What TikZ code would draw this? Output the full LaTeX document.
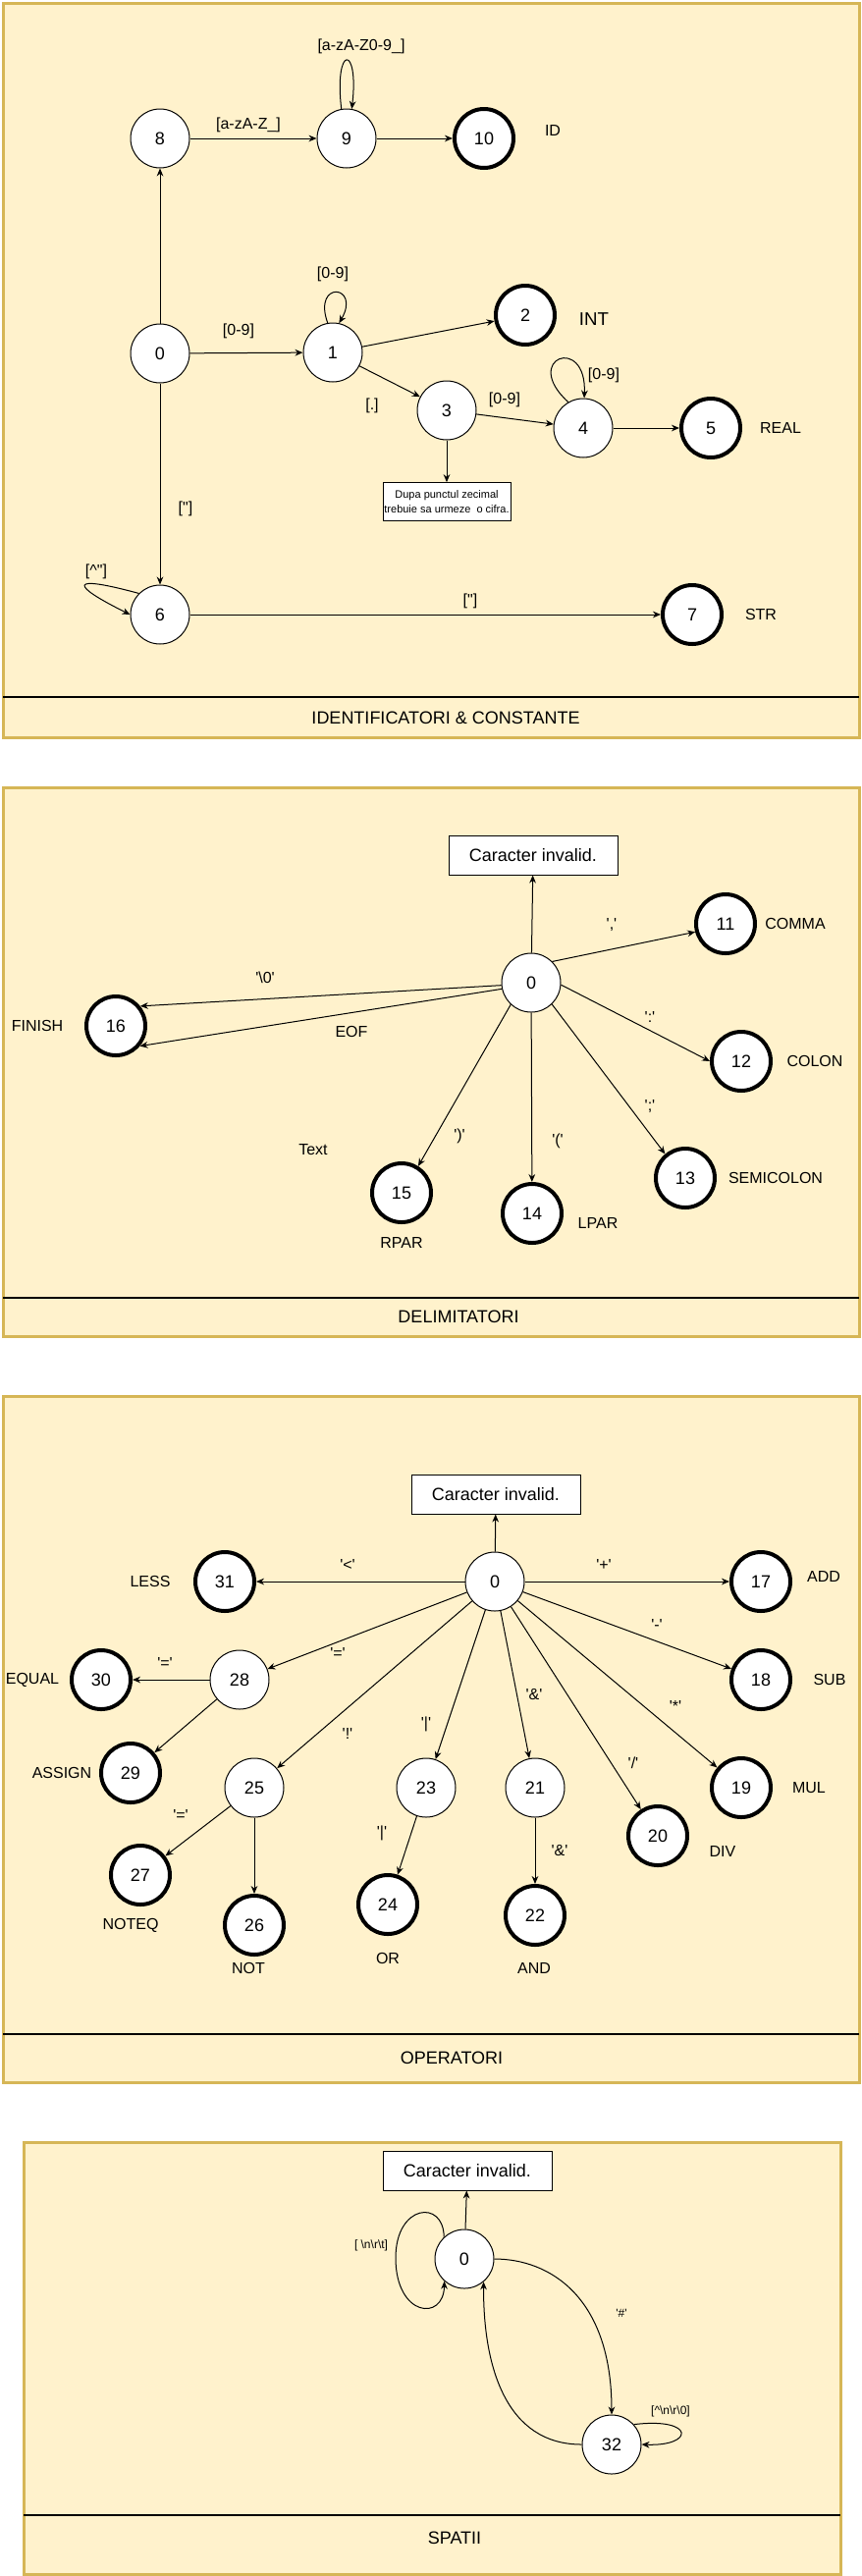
\documentclass[tikz,border=0pt]{standalone}
\usepackage{fontspec}
\setmainfont{Liberation Sans}[Ligatures=TeXOff]
\usetikzlibrary{arrows.meta}

\definecolor{secfill}{HTML}{FFF2CC}
\definecolor{secdraw}{HTML}{D6B656}

\tikzset{every picture/.style={line width=0.75pt}}
\tikzset{
  >={Stealth[length=6pt,width=5pt]},
  state/.style={circle,draw,fill=white,minimum size=45pt,inner sep=0pt,font=\fontsize{13.5}{16}\selectfont},
  final/.style={state,line width=3pt},
  invbox/.style={rectangle,draw,fill=white,minimum width=129pt,minimum height=30pt,inner sep=0pt,font=\fontsize{13.5}{16}\selectfont},
  notebox/.style={rectangle,draw,fill=white,minimum width=97.5pt,minimum height=29pt,inner sep=0pt,align=center,font=\fontsize{8.25}{11.25}\selectfont},
  lbl/.style={inner sep=0.75pt,font=\fontsize{12}{14}\selectfont},
  tag/.style={inner sep=0.75pt,font=\fontsize{12}{14}\selectfont},
  smalllbl/.style={inner sep=0.75pt,font=\fontsize{9}{11}\selectfont},
  section/.style={draw=secdraw,fill=secfill,line width=2.25pt},
  divider/.style={line width=1.5pt},
  title/.style={inner sep=0.75pt,font=\fontsize{13.5}{16}\selectfont}
}

\begin{document}
\begin{tikzpicture}[x=0.75pt,y=0.75pt,yscale=-1,xscale=1]
\path[use as bounding box,fill=white] (0,0) rectangle (878,2624);

%Shape: Rectangle (identificatori & constante)
\draw[section] (3,3) rectangle (875,751);
\draw[divider] (3,710) -- (875,710);
\node[title] (t1) at (454,731) {IDENTIFICATORI \& CONSTANTE};

%Shape: Circle
\node[state] (id8) at (163,141) {8};
\node[state] (id9) at (353,141) {9};
\node[final] (id10) at (493,141) {10};
\node[state] (id0) at (163,360) {0};
\node[state] (id1) at (339,359) {1};
\node[final] (id2) at (535,321) {2};
\node[state] (id3) at (455,418) {3};
\node[state] (id4) at (594,436) {4};
\node[final] (id5) at (724,436) {5};
\node[state] (id6) at (163,626) {6};
\node[final] (id7) at (705,626) {7};
\node[notebox] (iderr) at (455,511) {Dupa punctul zecimal\\trebuie sa urmeze\ \ o cifra.};

% Text Node
\node[tag] (tid) at (563,133) {ID};
\node[tag,font=\fontsize{14}{16}\selectfont] (tint) at (605,325) {INT};
\node[tag] (treal) at (795,436) {REAL};
\node[tag] (tstr) at (775,626) {STR};

% Text Node
\node[lbl] (l89) at (253,127) {[a-zA-Z\_]};
\node[lbl] (l99) at (368,47) {[a-zA-Z0-9\_]};
\node[lbl] (l01) at (243,337) {[0-9]};
\node[lbl] (l11) at (339,279) {[0-9]};
\node[lbl] (l13) at (379,413) {[.]};
\node[lbl] (l34) at (514,407) {[0-9]};
\node[lbl] (l44) at (615,382) {[0-9]};
\node[lbl] (l06) at (189,518) {["]};
\node[lbl] (l66) at (98,582) {[\textasciicircum"]};
\node[lbl] (l67) at (479,612) {["]};

\draw[->] (id0) -- (id8);
\draw[->] (id8) -- (id9);
\draw[->] (id9) -- (id10);
\draw[->] (id9.100) .. controls (340,45) and (366,45) .. (id9.80);
\draw[->] (id0) -- (id1);
\draw[->] (id1.100) .. controls (318,285) and (368,290) .. (id1.78);
\draw[->] (id1) -- (id2);
\draw[->] (id1) -- (id3);
\draw[->] (id3) -- (id4);
\draw[->] (id4.120) .. controls (530,365) and (598,340) .. (id4.88);
\draw[->] (id4) -- (id5);
\draw[->] (id3) -- (iderr);
\draw[->] (id0) -- (id6);
\draw[->] (id6.135) .. controls (70,585) and (70,595) .. (id6.180);
\draw[->] (id6) -- (id7);

%Shape: Rectangle (delimitatori)
\draw[section] (3,802) rectangle (875,1361);
\draw[divider] (3,1322) -- (875,1322);
\node[title] (t2) at (467,1341) {DELIMITATORI};

\node[invbox] (dlerr) at (543,871) {Caracter invalid.};
\node[state] (dl0) at (541,1001) {0};
\node[final] (dl11) at (739,941) {11};
\node[final] (dl12) at (755,1081) {12};
\node[final] (dl13) at (698,1200) {13};
\node[final] (dl14) at (542,1236) {14};
\node[final] (dl15) at (409,1215) {15};
\node[final] (dl16) at (118,1045) {16};

% Text Node
\node[tag] (tcomma) at (810,941) {COMMA};
\node[tag] (tcolon) at (830,1081) {COLON};
\node[tag] (tsemi) at (790,1200) {SEMICOLON};
\node[tag] (tlpar) at (609,1246) {LPAR};
\node[tag] (trpar) at (409,1266) {RPAR};
\node[tag] (tfinish) at (38,1045) {FINISH};
\node[tag] (ttext) at (319,1171) {Text};

% Text Node
\node[lbl] (lnul) at (270,996) {'\textbackslash 0'};
\node[lbl] (leof) at (358,1051) {EOF};
\node[lbl] (lcomma) at (623,942) {','};
\node[lbl] (lcolon) at (662,1036) {':'};
\node[lbl] (lsemi) at (662,1127) {';'};
\node[lbl] (lrpar) at (468,1157) {')'};
\node[lbl] (llpar) at (568,1162) {'('};

\draw[->] (dl0) -- (dlerr);
\draw[->] (dl0.45) -- (dl11.195);
\draw[->] (dl0.-4) -- (dl12.180);
\draw[->] (dl0.-46) -- (dl13.130);
\draw[->] (dl0) -- (dl14);
\draw[->] (dl0.-133) -- (dl15.58);
\draw[->] (dl0.185) -- (dl16.39);
\draw[->] (dl0.192) -- (dl16.-40);

%Shape: Rectangle (operatori)
\draw[section] (3,1422) rectangle (875,2121);
\draw[divider] (3,2072) -- (875,2072);
\node[title] (t3) at (460,2096) {OPERATORI};

\node[invbox] (operr) at (505,1522) {Caracter invalid.};
\node[state] (op0) at (504,1611) {0};
\node[final] (op31) at (229,1611) {31};
\node[final] (op17) at (775,1611) {17};
\node[state] (op28) at (244,1711) {28};
\node[final] (op30) at (103,1711) {30};
\node[final] (op29) at (133,1806) {29};
\node[final] (op18) at (775,1711) {18};
\node[state] (op25) at (259,1821) {25};
\node[state] (op23) at (434,1821) {23};
\node[state] (op21) at (545,1821) {21};
\node[final] (op19) at (755,1821) {19};
\node[final] (op20) at (670,1870) {20};
\node[final] (op27) at (143,1910) {27};
\node[final] (op26) at (259,1961) {26};
\node[final] (op24) at (395,1940) {24};
\node[final] (op22) at (545,1951) {22};

% Text Node
\node[tag] (tless) at (153,1611) {LESS};
\node[tag] (tadd) at (839,1606) {ADD};
\node[tag] (tequal) at (33,1711) {EQUAL};
\node[tag] (tassign) at (63,1806) {ASSIGN};
\node[tag] (tsub) at (845,1711) {SUB};
\node[tag] (tmul) at (824,1821) {MUL};
\node[tag] (tdiv) at (736,1886) {DIV};
\node[tag] (tnoteq) at (133,1961) {NOTEQ};
\node[tag] (tnot) at (253,2005) {NOT};
\node[tag] (tor) at (395,1995) {OR};
\node[tag] (tand) at (544,2005) {AND};

% Text Node
\node[lbl] (lless) at (354,1594) {'<'};
\node[lbl] (ladd) at (615,1594) {'+'};
\node[lbl] (lassign) at (344,1684) {'='};
\node[lbl] (lequal) at (168,1694) {'='};
\node[lbl] (lsub) at (669,1655) {'-'};
\node[lbl] (lnot) at (354,1766) {'!'};
\node[lbl] (lor) at (434,1756) {'|'};
\node[lbl] (land) at (544,1726) {'\&'};
\node[lbl] (ldiv) at (645,1796) {'/'};
\node[lbl] (lmul) at (688,1738) {'*'};
\node[lbl] (lnoteq) at (184,1849) {'='};
\node[lbl] (lor2) at (389,1867) {'|'};
\node[lbl] (land2) at (570,1885) {'\&'};

\draw[->] (op0) -- (operr);
\draw[->] (op0) -- (op31);
\draw[->] (op0) -- (op17);
\draw[->] (op0) -- (op28);
\draw[->] (op0) -- (op25);
\draw[->] (op0) -- (op23);
\draw[->] (op0) -- (op21);
\draw[->] (op0) -- (op20);
\draw[->] (op0) -- (op19);
\draw[->] (op0) -- (op18);
\draw[->] (op28) -- (op30);
\draw[->] (op28) -- (op29);
\draw[->] (op25) -- (op27);
\draw[->] (op25) -- (op26);
\draw[->] (op23) -- (op24);
\draw[->] (op21) -- (op22);

%Shape: Rectangle (spatii)
\draw[section] (24,2182) rectangle (856,2622);
\draw[divider] (24,2562) -- (856,2562);
\node[title] (t4) at (463,2585) {SPATII};

\node[invbox] (sperr) at (476,2211) {Caracter invalid.};
\node[state] (sp0) at (473,2301) {0};
\node[state] (sp32) at (623,2490) {32};

% Text Node
\node[smalllbl] (lws) at (378,2287) {[\ \textbackslash n\textbackslash r\textbackslash t]};
\node[smalllbl] (lhash) at (633,2356) {'\#'};
\node[smalllbl] (lcomm) at (683,2456) {[\textasciicircum\textbackslash n\textbackslash r\textbackslash 0]};

\draw[->] (sp0) -- (sperr);
\draw[->] (sp0.133) .. controls (452,2240) and (403,2245) .. (403,2300) .. controls (403,2360) and (452,2365) .. (sp0.228);
\draw[->] (sp0.east) .. controls (560,2301) and (623,2340) .. (sp32.north);
\draw[->] (sp32.west) .. controls (515,2490) and (492,2410) .. (sp0.-50);
\draw[->] (sp32.42) .. controls (708,2462) and (708,2492) .. (sp32.east);

\end{tikzpicture}
\end{document}
